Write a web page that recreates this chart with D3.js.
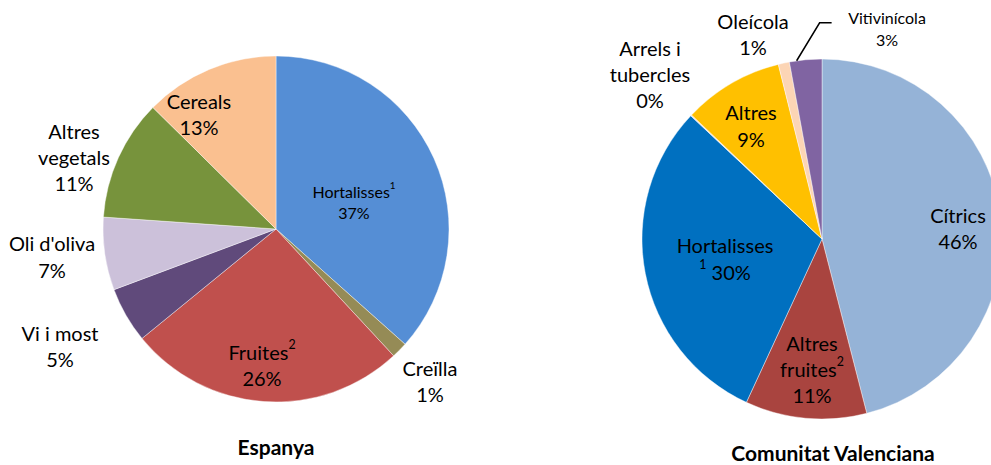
<!DOCTYPE html>
<html><head><meta charset="utf-8">
<script src="https://cdn.jsdelivr.net/npm/d3@7"></script>
<style>
html,body{margin:0;padding:0;background:#fff;}
svg{display:block;}
text{font-family:Lato,"Open Sans",sans-serif;fill:#000;}
</style></head>
<body><svg id="c" width="991" height="465"></svg>
<script>
// ---- Data ----
const espCategories = ["Hortalisses", "Creïlla", "Fruites", "Vi i most", "Oli d'oliva", "Altres vegetals", "Cereals"];
const espValues = [36.6, 1.5, 26.0, 5.2, 6.8, 11.3, 12.6];
const espPctLabels = ["37%", "1%", "26%", "5%", "7%", "11%", "13%"];
const cvCategories = ["Cítrics", "Altres fruites", "Hortalisses", "Arrels i tubercles", "Altres", "Oleícola", "Vitivinícola"];
const cvValues = [46.0, 10.9, 30.1, 0.1, 9.0, 1.0, 2.9];
const cvPctLabels = ["46%", "11%", "30%", "0%", "9%", "1%", "3%"];
const titles = ["Espanya", "Comunitat Valenciana"];

// ---- Styling / layout ----
const espColors = ["#558ED5", "#958B56", "#C0504D", "#604A7B", "#CCC1DA", "#77933C", "#FAC090"];
const cvColors = ["#95B3D7", "#A9443F", "#0070C0", "#F2DCDB", "#FFC000", "#FCD5B5", "#8064A2"];

// label lines; "sup" marks superscript. Positions = first line centre, relative to pie centre
const espLabelLines = [
  [[{t:"Hortalisses"},{t:"1",sup:true}],[{t:espPctLabels[0]}]],
  [[{t:"Creïlla"}],[{t:espPctLabels[1]}]],
  [[{t:"Fruites"},{t:"2",sup:true}],[{t:espPctLabels[2]}]],
  [[{t:"Vi i most"}],[{t:espPctLabels[3]}]],
  [[{t:"Oli d'oliva"}],[{t:espPctLabels[4]}]],
  [[{t:"Altres"}],[{t:"vegetals"}],[{t:espPctLabels[5]}]],
  [[{t:"Cereals"}],[{t:espPctLabels[6]}]]
];
const espLabelPos = [[78,-38],[154,139],[-14,123],[-216,104],[-224,14],[-202,-98],[-77,-128]];
const espLabelSize = [16,20,20,20,20,20,20];
const espLineGap = [21,26,26,26,27,26,26];

const cvLabelLines = [
  [[{t:"Cítrics"}],[{t:cvPctLabels[0]}]],
  [[{t:"Altres"}],[{t:"fruites"},{t:"2",sup:true}],[{t:cvPctLabels[1]}]],
  [[{t:"Hortalisses"}],[{t:"1",sup:true},{t:" " + cvPctLabels[2]}]],
  [[{t:"Arrels i"}],[{t:"tubercles"}],[{t:cvPctLabels[3]}]],
  [[{t:"Altres"}],[{t:cvPctLabels[4]}]],
  [[{t:"Oleícola"}],[{t:cvPctLabels[5]}]],
  [[{t:"Vitivinícola"}],[{t:cvPctLabels[6]}]]
];
const cvLabelPos = [[136,-24],[-10,104],[-97,6],[-172,-191],[-71,-127],[-69,-218],[65,-222]];
const cvLabelSize = [20,20,20,20,20,20,16];
const cvLineGap = [26,26,27,26,27,26,22];

const pies = [
  {vals: espValues, colors: espColors, lines: espLabelLines, pos: espLabelPos, size: espLabelSize, gap: espLineGap, cx: 276, cy: 229, r: 173, title: titles[0], tx: 276, ty: 446},
  {vals: cvValues, colors: cvColors, lines: cvLabelLines, pos: cvLabelPos, size: cvLabelSize, gap: cvLineGap, cx: 822, cy: 239, r: 180, title: titles[1], tx: 833, ty: 452}
];

const svg = d3.select("#c");
const pieGen = d3.pie().sort(null).value(d => d).startAngle(0).endAngle(2*Math.PI);

pies.forEach((p, pi) => {
  const g = svg.append("g").attr("transform", `translate(${p.cx},${p.cy})`);
  const arc = d3.arc().innerRadius(0).outerRadius(p.r);
  const arcs = pieGen(p.vals);
  g.selectAll("path").data(arcs).join("path")
    .attr("d", arc)
    .attr("fill", (d,i) => p.colors[i])
    .attr("stroke", "#ffffff")
    .attr("stroke-width", 0.6)
    .attr("stroke-opacity", 0.7);

  // leader line for Vitivinícola on the right pie
  if (pi === 1) {
    const a = arcs[6];
    const mid = (a.startAngle + a.endAngle) / 2;
    const x0 = Math.sin(mid) * p.r, y0 = -Math.cos(mid) * p.r;
    g.append("path")
      .attr("d", `M${x0-9},${y0+1} L${x0+14},${y0-37} L${x0+26},${y0-37}`)
      .attr("fill", "none").attr("stroke", "#000").attr("stroke-width", 1.5);
  }

  p.lines.forEach((lines, i) => {
    const [ox, oy] = p.pos[i];
    lines.forEach((parts, li) => {
      const y = oy + li * p.gap[i];
      const t = g.append("text")
        .attr("x", ox).attr("y", y)
        .attr("text-anchor", "middle")
        .attr("dominant-baseline", "central")
        .attr("font-size", p.size[i]);
      parts.forEach(part => {
        const s = t.append("tspan").text(part.t);
        if (part.sup) s.attr("font-size", p.size[i]*0.62).attr("baseline-shift", "super");
      });
    });
  });

  svg.append("text")
    .attr("x", p.tx).attr("y", p.ty)
    .attr("text-anchor", "middle").attr("dominant-baseline", "central")
    .attr("font-size", 21).attr("font-weight", "bold")
    .text(p.title);
});
</script></body></html>
